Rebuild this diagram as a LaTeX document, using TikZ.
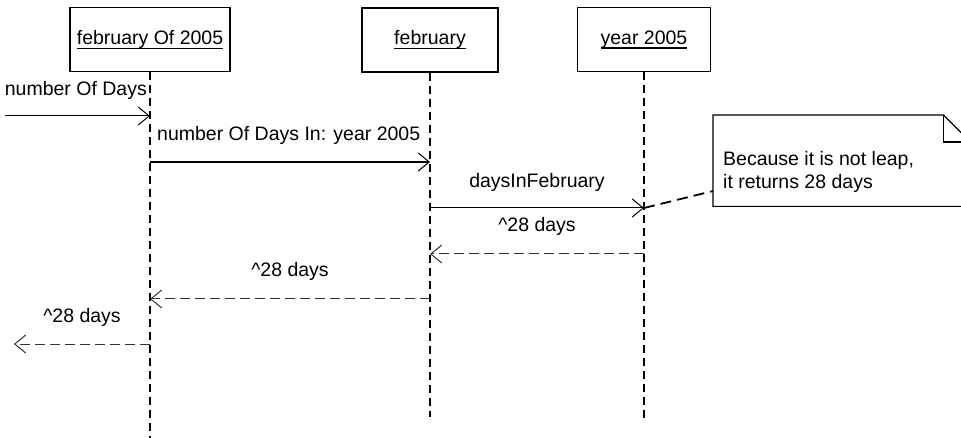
\documentclass[tikz,border=0pt]{standalone}
\usepackage{fontspec}
\setmainfont{Liberation Sans}
\usetikzlibrary{arrows.meta}
% underline that runs through the descenders, as UML object names are drawn
\newcommand\objname[1]{\setbox0\hbox{#1}\rlap{\rule[-4.5pt]{\wd0}{1.1pt}}\box0}
\begin{document}
\begin{tikzpicture}[x=1pt,y=-1pt,
  every node/.style={font=\fontsize{19.5}{23}\selectfont, inner sep=0pt},
  objbox/.style={draw, line width=1.4pt, minimum height=64pt, inner sep=0pt},
  lifeline/.style={line width=1.2pt, dash pattern=on 8pt off 5pt},
  barb/.style={-{Straight Barb[length=11pt,width=18pt,line width=1pt]}},
  call/.style={barb, line width=1pt},
  reply/.style={barb, line width=1pt, black!80, dash pattern=on 10pt off 5pt},
  notelink/.style={line width=1.8pt, dash pattern=on 11pt off 6pt},
  lbl/.style={anchor=base}
]
\clip (0,0) rectangle (961,438);

% objects
\node[objbox, minimum width=160pt] (feb2005) at (150,39.5) {\objname{february Of 2005}};
\node[objbox, minimum width=136pt] (feb) at (430,40) {\objname{february}};
\node[objbox, minimum width=133pt] (y2005) at (644,39.5) {\objname{year 2005}};

% lifeline ends
\coordinate (end1) at (150,438);
\coordinate (end2) at (430,417);
\coordinate (end3) at (644,423);
\draw[lifeline] (feb2005.south) -- (end1);
\draw[lifeline] (feb.south) -- (end2);
\draw[lifeline] (y2005.south) -- (end3);

% message points
\coordinate (m1a) at (5,116);    \coordinate (m1b) at (150,116);
\coordinate (m2a) at (150,162);  \coordinate (m2b) at (430,162);
\coordinate (m3a) at (430,208);  \coordinate (m3b) at (644,208);
\coordinate (r1a) at (644,254);  \coordinate (r1b) at (430,254);
\coordinate (r2a) at (430,299);  \coordinate (r2b) at (150,299);
\coordinate (r3a) at (150,344);  \coordinate (r3b) at (14,344);

% calls
\draw[call] (m1a) -- (m1b);
\node[anchor=base east] (lm1) at (147,96) {number Of Days};
\draw[call, line width=2pt] (m2a) -- (m2b);
\node[anchor=base west] (lm2) at (157,141) {number Of Days In: year 2005};
\draw[call] (m3a) -- (m3b);
\node[lbl] (lm3) at (537,188) {daysInFebruary};

% replies
\draw[reply] (r1a) -- (r1b);
\node[lbl] (lr1) at (537,232) {\^{}28 days};
\draw[reply] (r2a) -- (r2b);
\node[lbl] (lr2) at (290,277) {\^{}28 days};
\draw[reply] (r3a) -- (r3b);
\node[lbl] (lr3) at (82,323) {\^{}28 days};

% note with folded corner
\node[anchor=north west, minimum width=257pt, minimum height=91pt] (note) at (713,115) {};
\draw[line width=1.2pt] (note.north west) -- ([xshift=-27pt]note.north east)
  -- ([yshift=-27pt]note.north east) -- (note.south east) -- (note.south west) -- cycle;
\draw[line width=1.2pt] ([xshift=-27pt]note.north east) -- ([xshift=-27pt,yshift=-27pt]note.north east)
  -- ([yshift=-27pt]note.north east);
\node[anchor=base west] (notea) at (723,166) {Because it is not leap,};
\node[anchor=base west] (noteb) at (723,189) {it returns 28 days};
\coordinate (notept) at (713,191);
\draw[notelink] (m3b) -- (notept);
\end{tikzpicture}
\end{document}
